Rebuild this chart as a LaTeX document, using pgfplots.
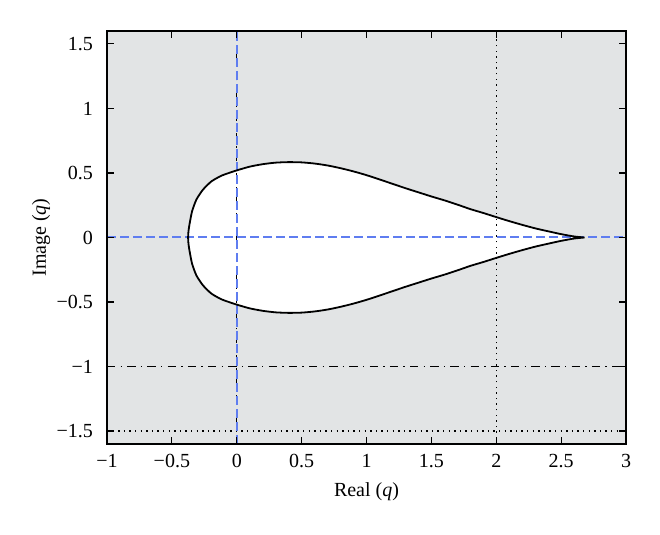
\documentclass[border=0pt]{standalone}
\usepackage{fontspec}
\setmainfont{Liberation Serif}
\usepackage{pgfplots}
\pgfplotsset{compat=1.18}

\definecolor{bggray}{RGB}{226,228,229}
\definecolor{refblue}{RGB}{95,125,240}

% boundary of the region, upper half then lower half
\pgfplotstableread{
x y
2.68 0.000
2.60 0.008
2.50 0.026
2.40 0.048
2.30 0.071
2.20 0.098
2.10 0.127
2.00 0.158
1.90 0.190
1.80 0.220
1.70 0.255
1.60 0.288
1.50 0.318
1.40 0.350
1.30 0.382
1.20 0.416
1.10 0.450
1.00 0.483
0.90 0.512
0.80 0.537
0.70 0.558
0.60 0.573
0.50 0.582
0.40 0.584
0.30 0.580
0.20 0.568
0.10 0.549
0.00 0.520
-0.06 0.500
-0.118 0.479
-0.195 0.435
-0.26 0.371
-0.311 0.294
-0.344 0.204
-0.362 0.114
-0.372 0.050
-0.375 0.000
-0.372 -0.050
-0.362 -0.114
-0.344 -0.204
-0.311 -0.294
-0.26 -0.371
-0.195 -0.435
-0.118 -0.479
-0.06 -0.500
0.00 -0.520
0.10 -0.549
0.20 -0.568
0.30 -0.580
0.40 -0.584
0.50 -0.582
0.60 -0.573
0.70 -0.558
0.80 -0.537
0.90 -0.512
1.00 -0.483
1.10 -0.450
1.20 -0.416
1.30 -0.382
1.40 -0.350
1.50 -0.318
1.60 -0.288
1.70 -0.255
1.80 -0.220
1.90 -0.190
2.00 -0.158
2.10 -0.127
2.20 -0.098
2.30 -0.071
2.40 -0.048
2.50 -0.026
2.60 -0.008
2.68 0.000
}\boundary

\begin{document}
\begin{tikzpicture}
\begin{axis}[
    name=main,
    scale only axis,
    width=259.5pt,
    height=206.5pt,
    xmin=-1, xmax=3,
    ymin=-1.6, ymax=1.6,
    xtick={-1,-0.5,0,0.5,1,1.5,2,2.5,3},
    xticklabels={−1,−0.5,0,0.5,1,1.5,2,2.5,3},
    ytick={-1.5,-1,-0.5,0,0.5,1,1.5},
    yticklabels={−1.5,−1,−0.5,0,0.5,1,1.5},
    tick align=inside,
    major tick length=3.5pt,
    tick style={black, line width=0.6pt},
    axis line style={black, line width=0.7pt},
    axis background/.style={fill=bggray},
    axis on top,
    font=\fontsize{10}{12}\selectfont,
    yticklabel style={xshift=-3.5pt},
    xticklabel style={yshift=-1.5pt},
    xlabel={Real (\textit{q})},
    ylabel={Image (\textit{q})},
    xlabel style={at={(axis description cs:0.5,-0.116)}, anchor=center},
    ylabel style={at={(axis description cs:-0.127,0.5)}, anchor=center},
]

% stable region (white)
\addplot[fill=white, draw=none, smooth, tension=0.4, forget plot] table {\boundary};

% reference lines
\addplot[black, line width=0.7pt, dash pattern=on 0.7pt off 2.1pt] coordinates {(2,-1.6) (2,1.6)};
\addplot[black, line width=0.7pt, dash pattern=on 0.7pt off 2.1pt] coordinates {(-1,-1.5) (3,-1.5)};
\addplot[black, line width=0.6pt, dash pattern=on 4.2pt off 2.6pt on 0.7pt off 2.6pt] coordinates {(-1,-1) (3,-1)};
\addplot[black, line width=0.6pt, dash pattern=on 4.2pt off 2.6pt on 0.7pt off 2.6pt] coordinates {(0,-1.6) (0,1.6)};
\addplot[refblue, line width=0.8pt, dash pattern=on 4.5pt off 2pt] coordinates {(0,-1.6) (0,1.6)};
\addplot[refblue, line width=0.8pt, dash pattern=on 4.5pt off 2pt] coordinates {(-1,0.004) (3,0.004)};

% boundary curve
\addplot[black, line width=0.9pt, smooth, tension=0.4] table {\boundary};
\end{axis}
% page margins as in the reference
\path (main.south west) ++(-53.5pt,-45pt) coordinate (bbA);
\path (main.north east) ++(17pt,15.5pt) coordinate (bbB);
\useasboundingbox (bbA) rectangle (bbB);
\end{tikzpicture}
\end{document}
